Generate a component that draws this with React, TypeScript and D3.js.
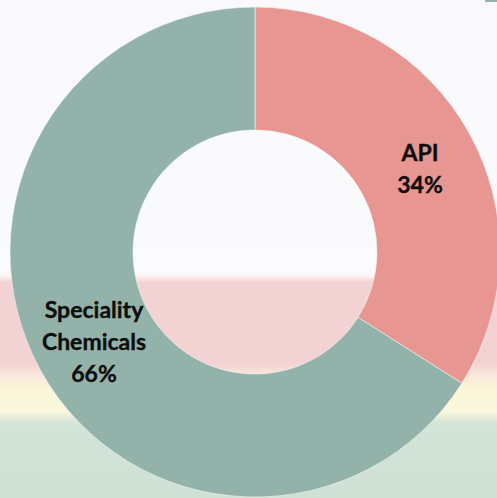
import React from "react";
import * as d3 from "d3";

const categories = ["API", "Speciality Chemicals"];
const values = [34, 66];
const labelLines = [["API", "34%"], ["Speciality", "Chemicals", "66%"]];
const colors = ["#e89692", "#93b3aa"];

const W = 497;
const H = 498;
const cx = 255;
const cy = 252;
const outerR = 245;
const innerR = 122;
const labelR = 186;
const lineH = 32;

export default function App() {
  const pie = d3.pie<number>().value((d) => d).sort(null);
  const arcs = pie(values);
  const arc = d3.arc<d3.PieArcDatum<number>>().innerRadius(innerR).outerRadius(outerR);
  const labelArc = d3.arc<d3.PieArcDatum<number>>().innerRadius(labelR).outerRadius(labelR);
  const offsets = [[2, 7], [2, 1]];

  return (
    <div style={{ position: "fixed", left: 0, top: 0, width: W, height: H, background: "#f9f9fc" }}>
      <svg width={W} height={H} style={{ display: "block" }}>
        <defs>
          <linearGradient id="bg" x1="0" y1="0" x2="0" y2="1">
            <stop offset={0} stopColor="#f9f9fc" />
            <stop offset={272 / H} stopColor="#fafbfc" />
            <stop offset={276 / H} stopColor="#fdf3f3" />
            <stop offset={282 / H} stopColor="#f2d2d3" />
            <stop offset={362 / H} stopColor="#f2d2d2" />
            <stop offset={378 / H} stopColor="#f9ebdb" />
            <stop offset={390 / H} stopColor="#fcf6d8" />
            <stop offset={412 / H} stopColor="#f8f6dc" />
            <stop offset={424 / H} stopColor="#d2e3d7" />
            <stop offset={1} stopColor="#cfe1d5" />
          </linearGradient>
        </defs>
        <rect x={0} y={0} width={W} height={H} fill="url(#bg)" />
        <rect x={485} y={0} width={12} height={2} fill="#93b3aa" />
        <g transform={`translate(${cx},${cy})`}>
          {arcs.map((a, i) => (
            <path key={categories[i]} d={arc(a) || ""} fill={colors[i]} stroke="#f4f4f6" strokeWidth={0.6} />
          ))}
          {arcs.map((a, i) => {
            const [x, y] = labelArc.centroid(a);
            const lines = labelLines[i];
            const x0 = x + offsets[i][0];
            const y0 = y + offsets[i][1];
            return (
              <text
                key={"l" + i}
                x={x0}
                textAnchor="middle"
                fontFamily="Lato, 'Open Sans', sans-serif"
                fontWeight="bold"
                fontSize={23}
                fill="#0d0d0d"
                stroke="#0d0d0d"
                strokeWidth={0.35}
              >
                {lines.map((t, j) => (
                  <tspan key={j} x={x0} y={y0 + (j - (lines.length - 1) / 2) * lineH + 7.5}>
                    {t}
                  </tspan>
                ))}
              </text>
            );
          })}
        </g>
      </svg>
    </div>
  );
}
